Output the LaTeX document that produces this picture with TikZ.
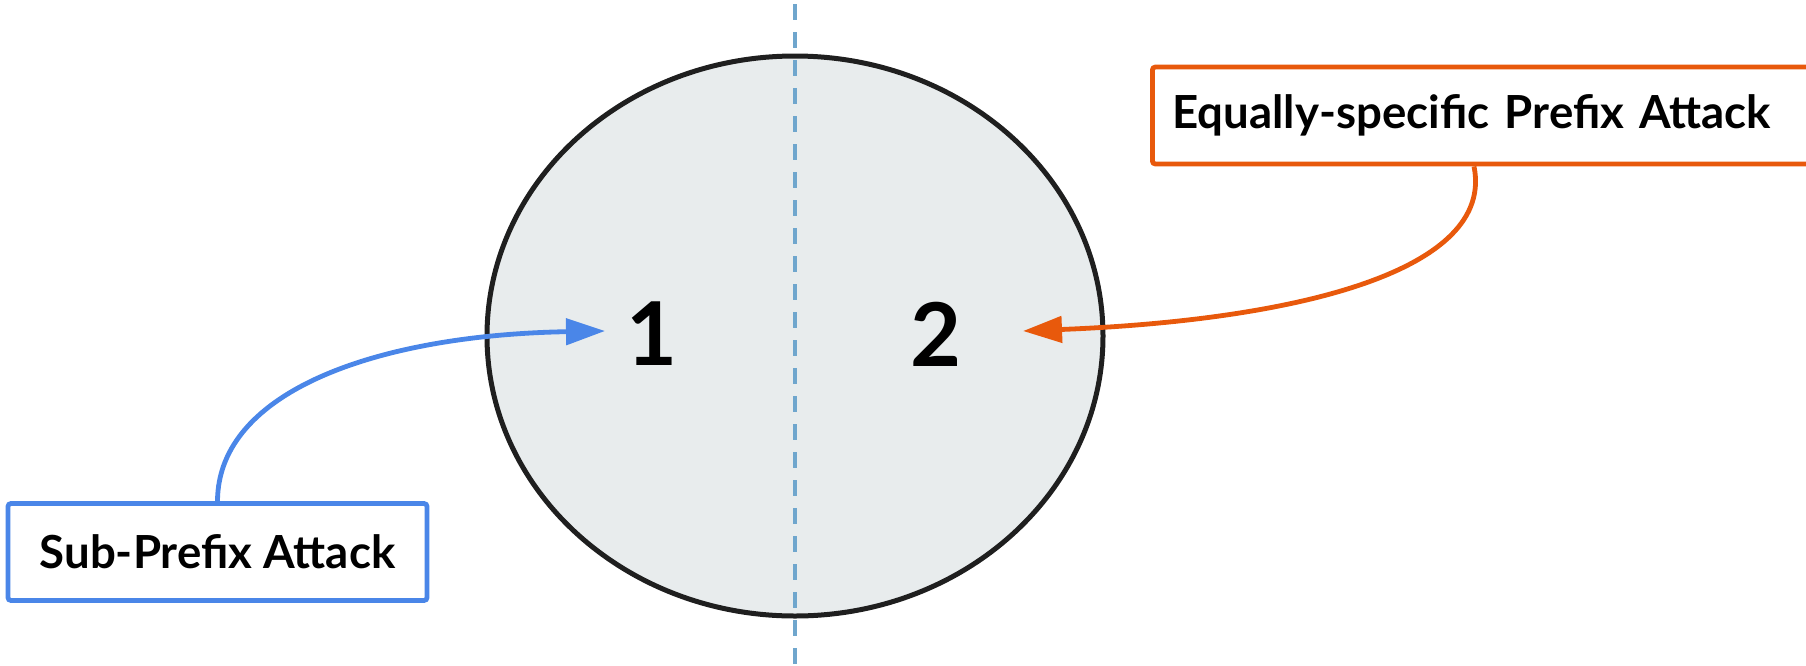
\documentclass[tikz,border=0pt]{standalone}
\usepackage{fontspec}
\setmainfont{Lato}
\usetikzlibrary{arrows.meta}
\definecolor{bluec}{HTML}{4A86E8}
\definecolor{orangec}{HTML}{E8590C}
\definecolor{fillc}{HTML}{E8ECED}
\definecolor{dashc}{HTML}{6FA6CD}
\definecolor{edgec}{HTML}{1F1F1F}
\begin{document}
\begin{tikzpicture}[x=0.5pt,y=-0.5pt,
  labelbox/.style={draw, line width=2.4pt, rounded corners=1.5pt, fill=white,
    font=\bfseries\fontsize{22.8}{27}\selectfont, minimum height=48.5pt, inner sep=0pt},
  num/.style={font=\bfseries\fontsize{44}{50}\selectfont, inner sep=0pt},
  conn/.style={line width=2.4pt, -{Triangle[length=19.5pt,width=13pt]}}]
\useasboundingbox (0,0) rectangle (1806,665);
\fill[fillc] (795,336) ellipse [x radius=308, y radius=280];
\draw[dashc, line width=1.8pt, dash pattern=on 8pt off 6pt] (795,4) -- (795,665);
\draw[edgec, line width=2.5pt] (795,336) ellipse [x radius=308, y radius=280];
\node[num] (n1) at (652,334) {1};
\node[num] (n2) at (936,334) {2};
\node[labelbox, draw=bluec, minimum width=209.5pt] (bbox) at (217.5,552) {Sub-Prefix Attack};
\node[labelbox, draw=orangec, anchor=west, inner xsep=10pt, text width=320pt, align=left] (ebox) at (1150,115.5) {Equally-specific Prefix Attack};
\coordinate (t1) at (605,331);
\coordinate (t2) at (1023,331);
\draw[conn, bluec] (bbox.north) .. controls (218,390) and (380,335) .. (t1);
\draw[conn, orangec] ([xshift=162pt]ebox.south west) .. controls (1495,270) and (1300,320) .. (t2);
\end{tikzpicture}
\end{document}
